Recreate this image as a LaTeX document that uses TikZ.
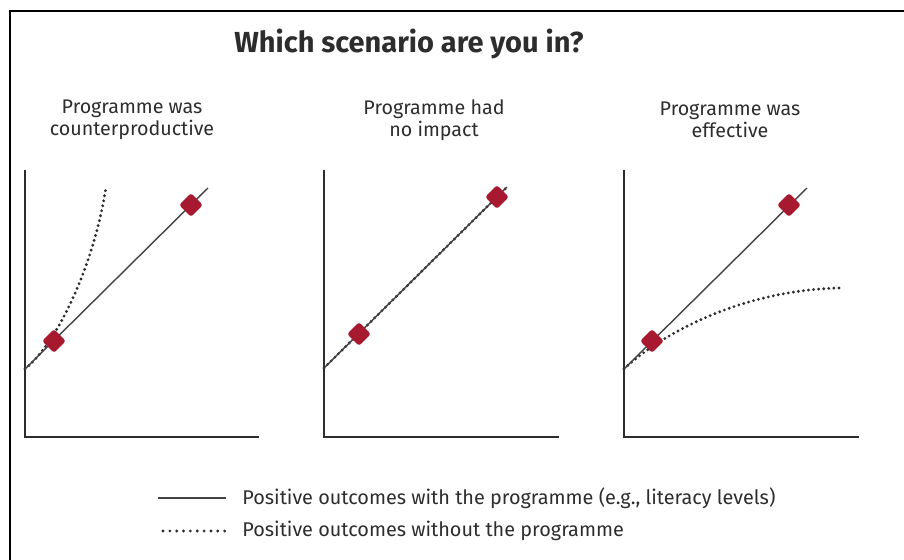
\documentclass[tikz,border=0pt]{standalone}
\usepackage{fontspec}
\setmainfont{Fira Sans}
\usetikzlibrary{positioning}
\definecolor{markred}{RGB}{166,25,46}
\definecolor{inkgrey}{RGB}{45,45,45}

\begin{document}
\begin{tikzpicture}[
  x=0.02cm, y=-0.02cm,
  axisline/.style={line width=1.4pt, inkgrey, line cap=rect},
  withline/.style={line width=0.8pt, inkgrey!90},
  withoutline/.style={line width=1.8pt, inkgrey, dash pattern=on 0pt off 2.9pt, line cap=round},
  marker/.style={fill=markred, rectangle, rotate=45, minimum size=9.6pt, inner sep=0pt, rounded corners=1.6pt},
  heading/.style={font=\fontsize{16.5}{19}\selectfont\bfseries, text=inkgrey},
  caption/.style={font=\fontsize{11.2}{12.5}\selectfont, align=center, text=inkgrey},
  legtext/.style={font=\fontsize{11.3}{13}\selectfont, anchor=west, text=inkgrey, inner sep=0pt}
]
\useasboundingbox (0,0) rectangle (904,559);
% frame
\draw[line width=1.2pt, black] (10,575) -- (10,11) -- (920,11);

\node[heading] (Title) at (409,44) {Which scenario are you in?};

\node[caption] (Cap_A) at (132,120) {Programme was\\counterproductive};
\node[caption] (Cap_B) at (434,120) {Programme had\\no impact};
\node[caption] (Cap_C) at (730,120) {Programme was\\effective};

% panel A
\coordinate (TopA) at (25,171);
\coordinate (OrgA) at (25,437);
\coordinate (EndA) at (258,437);
\coordinate (StartA) at (25,369);
\coordinate (TipA) at (208,188);
\coordinate (CurveA) at (106,187);
\draw[axisline] (TopA) -- (OrgA) -- (EndA);
\draw[withoutline] (StartA) .. controls (60,340) and (95,260) .. (CurveA);
\draw[withline] (StartA) -- (TipA);
\node[marker] (LowA) at (54,341) {};
\node[marker] (HighA) at (191,205) {};

% panel B
\coordinate (TopB) at (324,171);
\coordinate (OrgB) at (324,437);
\coordinate (EndB) at (558,437);
\coordinate (StartB) at (324,368);
\coordinate (TipB) at (507,187);
\draw[axisline] (TopB) -- (OrgB) -- (EndB);
\draw[withoutline, xshift=0.035cm, yshift=-0.035cm] (StartB) -- (TipB);
\draw[withline] (StartB) -- (TipB);
\node[marker] (LowB) at (359,334) {};
\node[marker] (HighB) at (497,197) {};

% panel C
\coordinate (TopC) at (624,171);
\coordinate (OrgC) at (624,437);
\coordinate (EndC) at (858,437);
\coordinate (StartC) at (624,369);
\coordinate (TipC) at (807,188);
\coordinate (CurveC) at (840,288);
\draw[axisline] (TopC) -- (OrgC) -- (EndC);
\draw[withoutline] (StartC) .. controls (660,335) and (740,290) .. (CurveC);
\draw[withline] (StartC) -- (TipC);
\node[marker] (LowC) at (652,341) {};
\node[marker] (HighC) at (789,205) {};

% legend
\coordinate (LegA1) at (158,498);
\coordinate (LegA2) at (226,498);
\coordinate (LegB1) at (163,531);
\coordinate (LegB2) at (226,531);
\draw[withline, line width=1pt] (LegA1) -- (LegA2);
\draw[withoutline, dash pattern=on 0pt off 3.9pt] (LegB1) -- (LegB2);
\node[legtext] (LegTextA) [right=0.32cm of LegA2] {Positive outcomes with the programme (e.g., literacy levels)};
\node[legtext] (LegTextB) [right=0.32cm of LegB2] {Positive outcomes without the programme};
\end{tikzpicture}
\end{document}
